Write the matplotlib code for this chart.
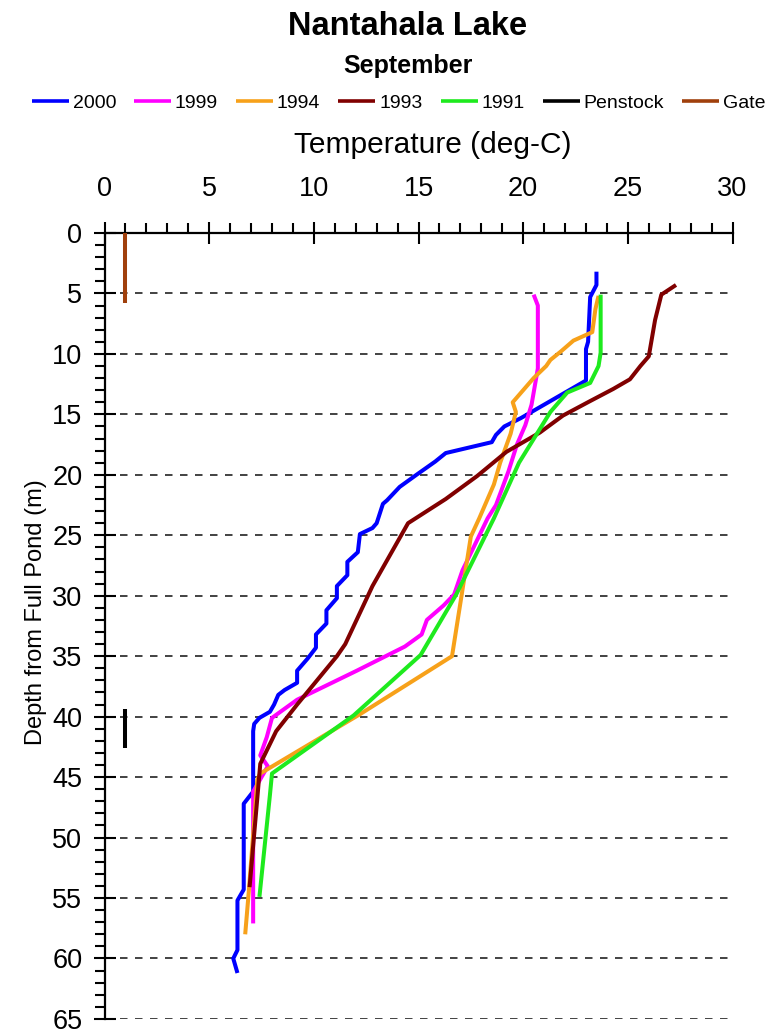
import matplotlib
matplotlib.use("Agg")
import matplotlib.pyplot as plt
from matplotlib.ticker import MultipleLocator

plt.rcParams["font.family"] = ["Liberation Sans", "DejaVu Sans"]

# temperature profiles, depth in m below full pond, temperature in deg C
depth_2000 = [3.2, 4.3, 5.3, 9.0, 9.6, 12.2, 12.6, 13.6, 14.5, 15.3, 16.0, 16.7,
              17.3, 18.2, 18.9, 20.0, 21.0, 22.1, 22.4, 24.0, 24.4, 24.9, 26.4,
              27.2, 28.3, 29.2, 30.2, 31.2, 32.3, 33.2, 34.3, 35.2, 36.2, 37.2,
              37.8, 38.2, 39.0, 39.6, 40.1, 40.6, 41.2, 46.2, 47.2, 54.3, 55.2,
              59.3, 60.0, 61.2]
temp_2000 = [23.5, 23.5, 23.2, 23.1, 23.0, 23.0, 22.6, 21.6, 20.7, 19.9, 19.1, 18.7,
             18.5, 16.3, 15.8, 14.9, 14.1, 13.5, 13.3, 13.0, 12.8, 12.2, 12.1,
             11.6, 11.6, 11.1, 11.1, 10.6, 10.6, 10.1, 10.1, 9.7, 9.2, 9.2,
             8.6, 8.3, 8.1, 7.9, 7.4, 7.15, 7.1, 7.1, 6.65, 6.65, 6.35,
             6.35, 6.15, 6.35]

depth_1999 = [5.1, 6.0, 11.2, 13.2, 14.2, 15.9, 17.5, 19.7, 22.5, 23.6, 27.9, 29.9,
              30.8, 32.0, 33.2, 34.2, 36.2, 38.6, 40.1, 41.7, 43.2, 44.1, 45.6,
              46.2, 57.1]
temp_1999 = [20.5, 20.7, 20.7, 20.5, 20.4, 20.1, 19.7, 19.3, 18.7, 18.3, 17.1, 16.7,
             16.2, 15.4, 15.15, 14.35, 12.05, 9.2, 8.0, 7.75, 7.44, 7.8, 7.3,
             7.1, 7.1]

depth_1994 = [5.2, 6.3, 8.2, 8.9, 9.8, 10.5, 11.0, 12.0, 13.0, 14.0, 14.8, 16.6,
              19.0, 20.8, 23.6, 25.1, 35.0, 39.8, 44.7, 45.2, 54.3, 58.0]
temp_1994 = [23.6, 23.45, 23.3, 22.4, 21.8, 21.3, 21.1, 20.5, 20.0, 19.5, 19.65, 19.4,
             18.9, 18.6, 17.9, 17.5, 16.6, 12.2, 7.44, 7.3, 6.9, 6.72]

depth_1993 = [4.3, 5.1, 7.2, 10.2, 11.0, 12.1, 12.9, 13.9, 15.1, 16.5, 18.1, 20.1,
              22.0, 24.0, 29.2, 34.0, 35.0, 39.0, 41.2, 43.9, 46.7, 54.1]
temp_1993 = [27.3, 26.6, 26.3, 26.0, 25.6, 25.1, 24.3, 23.2, 21.9, 20.8, 19.2, 17.8,
             16.3, 14.5, 12.8, 11.5, 11.1, 9.2, 8.2, 7.44, 7.3, 6.93]

depth_1991 = [5.1, 9.9, 11.0, 12.4, 13.2, 14.8, 16.2, 19.0, 23.6, 29.9, 34.9, 39.9,
              44.7, 46.5, 54.9]
temp_1991 = [23.7, 23.7, 23.6, 23.2, 22.1, 21.3, 20.8, 19.8, 18.6, 16.8, 15.1, 11.9,
             8.0, 7.9, 7.4]

penstock_depth = [39.4, 42.6]
gate_depth = [0.0, 5.8]
intake_temp = [1.0, 1.0]

series = [
    ("2000", temp_2000, depth_2000, "#0000FF"),
    ("1999", temp_1999, depth_1999, "#FF00FF"),
    ("1994", temp_1994, depth_1994, "#F7A11A"),
    ("1993", temp_1993, depth_1993, "#800000"),
    ("1991", temp_1991, depth_1991, "#1EEA1E"),
    ("Penstock", intake_temp, penstock_depth, "#000000"),
    ("Gate", intake_temp, gate_depth, "#A0400C"),
]

fig = plt.figure(figsize=(7.68, 10.35), dpi=100)
ax = fig.add_axes([0.1361, 0.0155, 0.8177, 0.7594])

for name, t, d, c in series:
    ax.plot(t, d, color=c, lw=2.9, label=name, zorder=3, solid_capstyle="butt")

ax.set_xlim(0, 30)
ax.set_ylim(65, 0)
ax.xaxis.tick_top()
ax.xaxis.set_major_locator(MultipleLocator(5))
ax.xaxis.set_minor_locator(MultipleLocator(1))
ax.yaxis.set_major_locator(MultipleLocator(5))
ax.yaxis.set_minor_locator(MultipleLocator(1))

for s in ("right", "bottom"):
    ax.spines[s].set_visible(False)
for s in ("top", "left"):
    ax.spines[s].set_linewidth(1.6)

ax.tick_params(which="major", direction="inout", length=16, width=1.5,
               labelsize=19.5, colors="black")
ax.tick_params(axis="x", which="major", pad=14)
ax.tick_params(axis="y", which="major", pad=8)
ax.tick_params(which="minor", direction="out", length=7, width=1.5)

ax.yaxis.grid(True, which="major", color="#222222", lw=1.2,
              linestyle=(0, (4.5, 4.5)), zorder=1)
ax.set_axisbelow(True)

fig.text(0.5306, 0.9662, "Nantahala Lake", ha="center", va="baseline",
         fontsize=23.5, fontweight="bold")
fig.text(0.5306, 0.9295, "September", ha="center", va="baseline",
         fontsize=18, fontweight="bold")
fig.text(0.564, 0.852, "Temperature (deg-C)", ha="center", va="baseline",
         fontsize=21.5)
fig.text(0.047, 0.409, "Depth from Full Pond (m)", ha="center", va="center",
         rotation=90, fontsize=17)

leg = fig.legend(loc="center", bbox_to_anchor=(0.519, 0.9002), ncol=7,
                 frameon=False, fontsize=14, handlelength=1.9,
                 handletextpad=0.2, columnspacing=0.93, borderaxespad=0)
for h in leg.get_lines():
    h.set_linewidth(2.6)

fig.savefig("out.png", dpi=100)
